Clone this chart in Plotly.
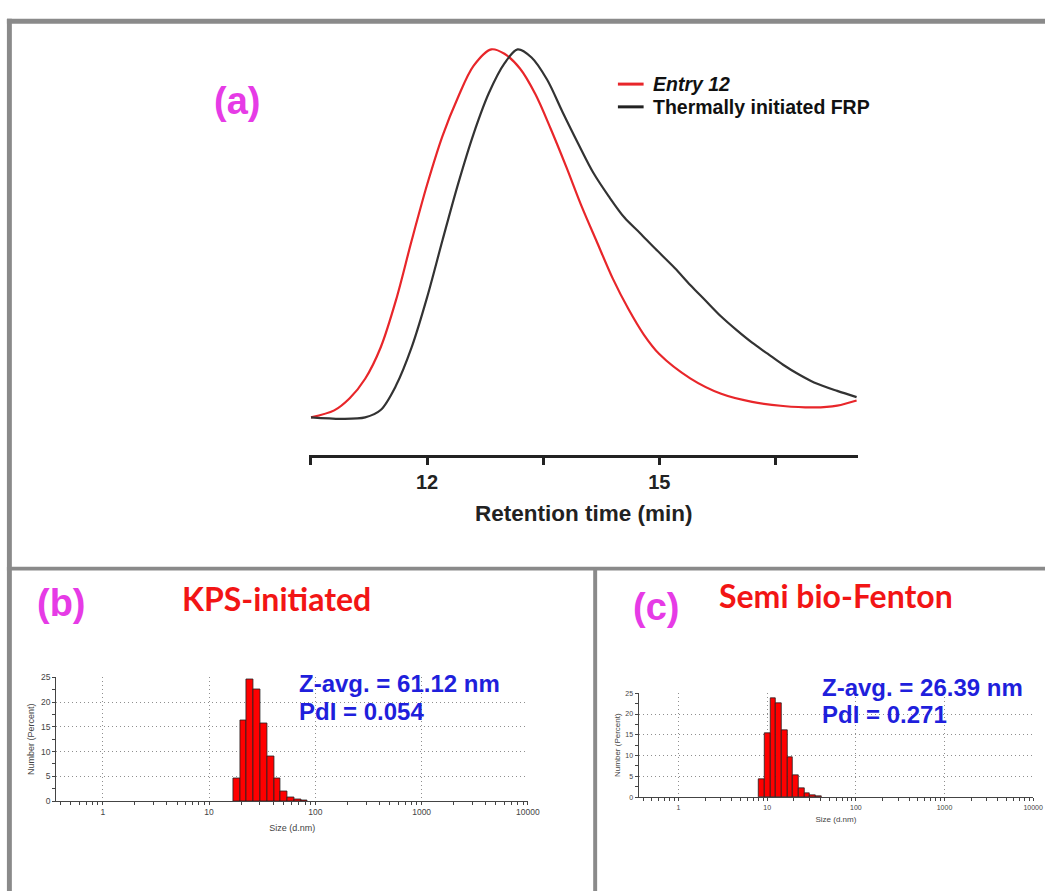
import numpy as np
import plotly.graph_objects as go

# ---------------- data ----------------
# (a) GPC traces, normalised detector response vs retention time (min)
entry12_time = [10.50, 10.80, 11.00, 11.20, 11.40, 11.60, 11.80, 12.00, 12.20, 12.40,
                12.60, 12.83, 13.00, 13.20, 13.40, 13.60, 13.80, 14.00, 14.20, 14.40,
                14.60, 14.80, 15.00, 15.40, 15.80, 16.20, 16.60, 17.00, 17.30, 17.55]
entry12_resp = [0.000, 0.019, 0.052, 0.105, 0.190, 0.320, 0.480, 0.632, 0.765, 0.870,
                0.955, 1.000, 0.988, 0.948, 0.878, 0.783, 0.680, 0.572, 0.474, 0.377,
                0.295, 0.225, 0.172, 0.106, 0.064, 0.042, 0.031, 0.027, 0.032, 0.046]

thermal_time = [10.50, 10.90, 11.20, 11.40, 11.60, 11.80, 12.00, 12.20, 12.40, 12.60,
                12.80, 13.00, 13.17, 13.35, 13.55, 13.75, 13.95, 14.15, 14.35, 14.55,
                14.75, 14.95, 15.20, 15.40, 15.60, 15.80, 16.00, 16.20, 16.40, 16.60,
                16.80, 17.00, 17.30, 17.55]
thermal_resp = [0.000, -0.004, 0.000, 0.020, 0.087, 0.190, 0.326, 0.482, 0.634, 0.770,
                0.882, 0.962, 1.000, 0.978, 0.918, 0.830, 0.745, 0.664, 0.600, 0.543,
                0.501, 0.458, 0.406, 0.360, 0.317, 0.274, 0.237, 0.203, 0.173, 0.143,
                0.117, 0.095, 0.072, 0.055]

time_ticks = [10.5, 12, 13.5, 15, 16.5]
time_labels = ["", "12", "", "15", ""]

# (b) DLS number distribution, KPS-initiated
kps_size = [18.17, 21.04, 24.36, 28.21, 32.67, 37.84, 43.82, 50.75, 58.77, 68.06, 78.82]
kps_number = [4.6, 16.4, 24.6, 22.5, 15.6, 9.1, 4.5, 2.0, 0.7, 0.4, 0.1]

# (c) DLS number distribution, semi bio-Fenton
fenton_size = [8.721, 10.10, 11.70, 13.54, 15.69, 18.17, 21.04, 24.36, 28.21, 32.67, 37.84]
fenton_number = [4.4, 15.3, 23.7, 22.6, 16.0, 9.6, 5.2, 2.1, 1.0, 0.5, 0.2]

size_decades = [1, 10, 100, 1000, 10000]
number_ticks = [0, 5, 10, 15, 20, 25]

# ---------------- helpers ----------------
W, H = 1057, 896


def fx(px):
    return px / W


def fy(py):
    return 1 - py / H


ARIAL = "Liberation Sans, Arial, sans-serif"
MAGENTA = "#e63be6"
RED = "#f21515"
BLUE = "#1f1fdc"
FRAME = "#8a8a8a"
DOTS = "1px,3px"

fig = go.Figure()

# ---------------- (a) GPC ----------------
fig.add_trace(go.Scatter(x=entry12_time, y=entry12_resp, mode="lines",
                         line=dict(color="#e8262a", width=2.2, shape="spline", smoothing=0.9),
                         xaxis="x", yaxis="y", showlegend=False))
fig.add_trace(go.Scatter(x=thermal_time, y=thermal_resp, mode="lines",
                         line=dict(color="#333333", width=2.2, shape="spline", smoothing=0.9),
                         xaxis="x", yaxis="y", showlegend=False))


# ---------------- (b), (c) DLS histograms ----------------
def dls_bars(sizes, values, xa, ya):
    logs = np.log10(sizes)
    width = float(np.mean(np.diff(logs)))
    return go.Bar(x=logs, y=values, width=width, xaxis=xa, yaxis=ya,
                  marker=dict(color="#ff0000", line=dict(color="#222222", width=0.8)),
                  showlegend=False)


fig.add_trace(dls_bars(kps_size, kps_number, "x2", "y2"))
fig.add_trace(dls_bars(fenton_size, fenton_number, "x3", "y3"))

minor_sizes = [m * d for d in [0.1, 1, 10, 100, 1000] for m in range(2, 10)]
minor_sizes = [s for s in minor_sizes if s > 0.36]


def dls_xaxis(domain, rng, anchor, fsize, title_size, standoff):
    return dict(domain=domain, range=rng, type="linear", anchor=anchor,
                tickvals=[np.log10(v) for v in size_decades],
                ticktext=[str(v) for v in size_decades],
                tickfont=dict(family=ARIAL, size=fsize, color="#444"),
                ticks="outside", ticklen=3, tickwidth=1, tickcolor="#444",
                showline=True, linecolor="#444", linewidth=1.2,
                showgrid=True, gridcolor="#8f8f8f", griddash=DOTS, gridwidth=1,
                zeroline=False,
                minor=dict(tickvals=[np.log10(v) for v in minor_sizes], ticks="outside",
                           ticklen=3, tickcolor="#444", showgrid=False),
                title=dict(text="Size (d.nm)", font=dict(family=ARIAL, size=title_size, color="#444"),
                           standoff=standoff))


def dls_yaxis(domain, anchor, fsize, title_size, standoff):
    return dict(domain=domain, range=[0, 25], anchor=anchor, tickvals=number_ticks,
                ticktext=[str(v) for v in number_ticks],
                tickfont=dict(family=ARIAL, size=fsize, color="#444"),
                ticks="outside", ticklen=3, tickwidth=1, tickcolor="#444",
                showline=True, linecolor="#444", linewidth=1.2,
                showgrid=True, gridcolor="#8f8f8f", griddash=DOTS, gridwidth=1,
                zeroline=False,
                minor=dict(tickvals=[2.5, 7.5, 12.5, 17.5, 22.5], ticks="outside",
                           ticklen=3, tickcolor="#444", showgrid=False),
                title=dict(text="Number (Percent)", font=dict(family=ARIAL, size=title_size, color="#444"),
                           standoff=standoff))


fig.update_layout(
    width=W, height=H,
    margin=dict(l=0, r=0, t=0, b=0),
    paper_bgcolor="white", plot_bgcolor="rgba(0,0,0,0)",
    xaxis=dict(domain=[fx(313), fx(868)], range=[10.48, 17.57],
               tickvals=time_ticks, ticktext=[f"<b>{t}</b>" for t in time_labels],
               tickfont=dict(family=ARIAL, size=20, color="#222"),
               ticks="outside", ticklen=7, tickwidth=2.5, tickcolor="#222",
               showline=True, linecolor="#222", linewidth=3,
               showgrid=False, zeroline=False,
               title=dict(text="<b>Retention time (min)</b>",
                          font=dict(family=ARIAL, size=22.5, color="#222"), standoff=14)),
    yaxis=dict(domain=[fy(455), fy(30)], range=[-0.102, 1.040], visible=False),
    xaxis2=dls_xaxis([fx(57), fx(534)], [np.log10(0.366), 4.0], "y2", 8.5, 9, 8),
    yaxis2=dls_yaxis([fy(805), fy(680)], "x2", 8.5, 9, 4),
    xaxis3=dls_xaxis([fx(646), fx(1045)], [-0.45, 4.0], "y3", 7, 8, 6),
    yaxis3=dls_yaxis([fy(801), fy(696)], "x3", 7, 8, 3),
    bargap=0,
)

# ---------------- frame ----------------
frame_rects = [
    (7, 14, 1057, 19),     # top rule
    (7, 14, 12, 896),      # left rule
    (7, 568, 1057, 572),   # divider under (a)
    (600, 570, 604, 896),  # divider between (b) and (c)
]
for x0, y0, x1, y1 in frame_rects:
    fig.add_shape(type="rect", xref="paper", yref="paper",
                  x0=fx(x0), x1=fx(x1), y0=fy(y1), y1=fy(y0),
                  line=dict(width=0), fillcolor=FRAME, layer="above")

# ---------------- legend for (a) ----------------
legend_rows = [("<b><i>Entry 12</i></b>", "#e8262a", 80),
               ("<b>Thermally initiated FRP</b>", "#222222", 103)]
for text, color, py in legend_rows:
    fig.add_shape(type="line", xref="paper", yref="paper",
                  x0=fx(625), x1=fx(651), y0=fy(py), y1=fy(py),
                  line=dict(color=color, width=3))
    fig.add_annotation(text=text, xref="paper", yref="paper", x=fx(658), y=fy(py),
                       xanchor="left", yanchor="middle", showarrow=False,
                       font=dict(family=ARIAL, size=19.5, color="#111"))

# ---------------- panel labels and titles ----------------
labels = [
    ("<b>(a)</b>", 240, 97),
    ("<b>(b)</b>", 62, 605),
    ("<b>(c)</b>", 664, 609),
]
for text, px, py in labels:
    fig.add_annotation(text=text, xref="paper", yref="paper", x=fx(px), y=fy(py),
                       xanchor="center", yanchor="middle", showarrow=False,
                       font=dict(family=ARIAL, size=38, color=MAGENTA))

for text, px, py in [("<b>KPS-initiated</b>", 280, 600), ("<b>Semi bio-Fenton</b>", 846, 597)]:
    fig.add_annotation(text=text, xref="paper", yref="paper", x=fx(px), y=fy(py),
                       xanchor="center", yanchor="middle", showarrow=False,
                       font=dict(family="Lato, sans-serif", size=32, color=RED))

stats = [
    ("<b>Z-avg. = 61.12 nm</b>", 300, 686),
    ("<b>PdI = 0.054</b>", 300, 714),
    ("<b>Z-avg. = 26.39 nm</b>", 829, 690),
    ("<b>PdI = 0.271</b>", 829, 718),
]
for text, px, py in stats:
    fig.add_annotation(text=text, xref="paper", yref="paper", x=fx(px), y=fy(py),
                       xanchor="left", yanchor="middle", showarrow=False,
                       font=dict(family=ARIAL, size=24, color=BLUE))

# page style: figure flush with the window edges
page_css = ("var s=document.createElement('style');"
            "s.innerHTML='html,body{margin:0;padding:0;overflow:hidden;}';"
            "document.head.appendChild(s);")
fig.write_html("out.html", post_script=page_css)
